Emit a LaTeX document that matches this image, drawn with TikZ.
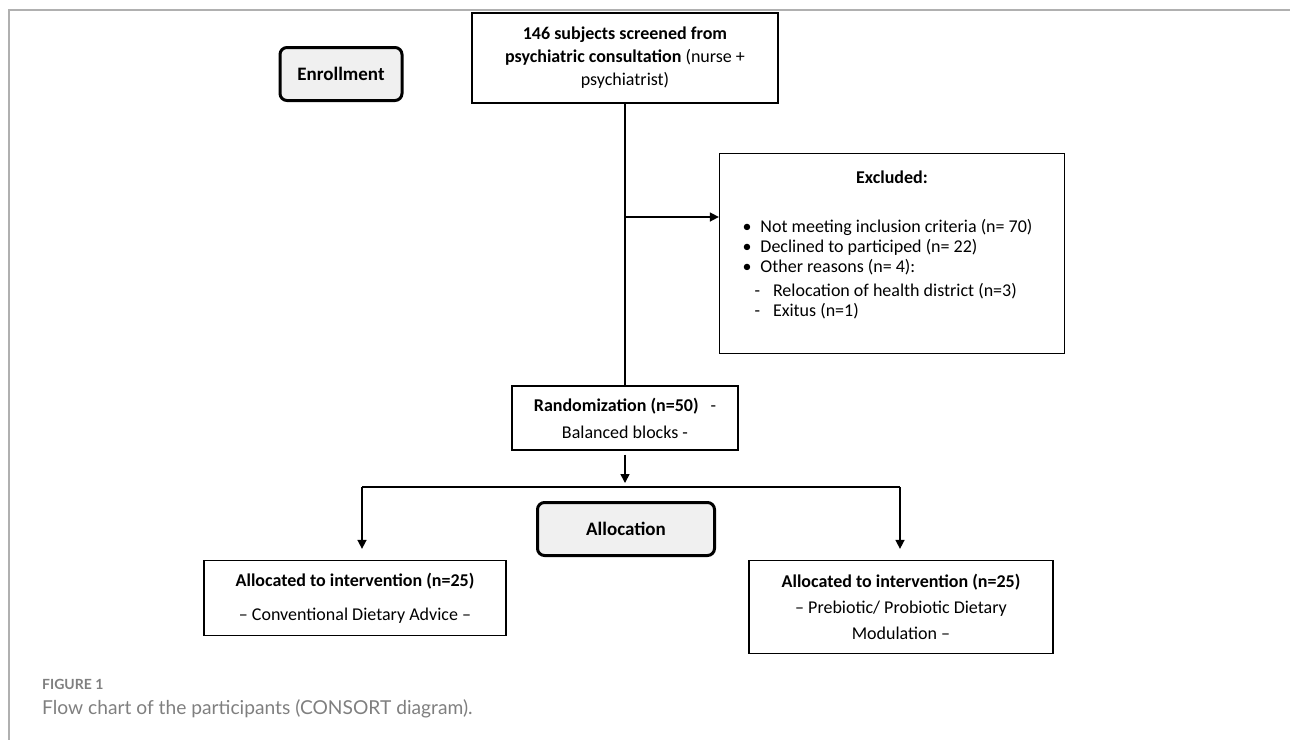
\documentclass[tikz,border=0pt]{standalone}
\usepackage{fontspec}
\setmainfont{Carlito}
\newfontfamily\captionfont{Lato}
\usetikzlibrary{arrows.meta,positioning}
\definecolor{framegray}{HTML}{B0B0B0}
\definecolor{capgray}{HTML}{7F7F7F}
\definecolor{phasefill}{HTML}{F0F0F0}

\begin{document}
\begin{tikzpicture}[
    x=1pt, y=-1pt,
    box/.style={draw, line width=1.3pt, align=center, inner sep=0pt, font=\fontsize{18}{27}\selectfont},
    phase/.style={draw, line width=3pt, rounded corners=7pt, fill=phasefill, inner sep=0pt, font=\bfseries\fontsize{19}{23}\selectfont},
    link/.style={line width=1.6pt},
    arr/.style={-{Triangle[length=9pt, width=9pt]}, line width=1.6pt}
]
\useasboundingbox (0,0) rectangle (1290,740);
\draw[framegray, line width=1.5pt] (1290,10) -- (9,10) -- (9,740);

\node[phase, minimum width=122pt, minimum height=53pt] (enroll) at (341,74) {Enrollment};
\node[box, minimum width=306pt, minimum height=90pt, font=\fontsize{18}{23}\selectfont] (screen) at (625,58) {\textbf{146 subjects screened from}\\\textbf{psychiatric consultation} (nurse +\\psychiatrist)};
\node[box, anchor=north, inner xsep=23pt, inner ysep=17pt, text width=299pt, align=left, font=\fontsize{18}{20}\selectfont] (excl) at (892,153) {%
  \parindent=0pt\parskip=0pt\spaceskip=0pt\xspaceskip=0pt
  {\centering\textbf{Excluded:}\par}\vspace{29pt}
  \raggedright
  \textbullet\hspace{9pt}Not meeting inclusion criteria (n= 70)\par
  \textbullet\hspace{9pt}Declined to participed (n= 22)\par
  \textbullet\hspace{9pt}Other reasons (n= 4):\par\vspace{4pt}
  \hspace*{12pt}-\hspace{13pt}Relocation of health district (n=3)\par
  \hspace*{12pt}-\hspace{13pt}Exitus (n=1)\par\mbox{}};
\node[box, minimum width=226pt, minimum height=64pt] (rand) at (625,418) {\textbf{Randomization (n=50)}\hspace{12pt}-\\Balanced blocks -};
\node[phase, minimum width=177pt, minimum height=53pt] (alloc) at (626,529) {Allocation};
\node[box, minimum width=302pt, minimum height=75pt] (conv) at (355,598) {\textbf{Allocated to intervention (n=25)}\\[7pt]-- Conventional Dietary Advice --};
\node[box, minimum width=304pt, minimum height=93pt, font=\fontsize{18}{26}\selectfont] (probio) at (901,607) {\textbf{Allocated to intervention (n=25)}\\-- Prebiotic/ Probiotic Dietary\\Modulation --};

\coordinate (excljoin) at (625,217);
\coordinate (split) at (625,487);
\coordinate (lturn) at (362,487);
\coordinate (rturn) at (900,487);

\draw[link] (screen.south) -- (rand.north);
\draw[arr] (excljoin) -- (excljoin -| excl.west);
\draw[arr, shorten <=4pt, shorten >=4pt] (rand.south) -- (split);
\draw[link] (lturn) -- (rturn);
\draw[arr, shorten >=11pt] (lturn) -- (lturn |- conv.north);
\draw[arr, shorten >=11pt] (rturn) -- (rturn |- probio.north);

\node[anchor=base west, inner sep=0pt, text=capgray, font=\captionfont\bfseries\fontsize{14}{16}\selectfont] (figlabel) at (42,689) {FIGURE 1};
\node[anchor=base west, inner sep=0pt, text=capgray, font=\captionfont\fontsize{19.2}{23}\selectfont] (figcaption) at (42,714) {Flow chart of the participants (CONSORT diagram).};
\end{tikzpicture}
\end{document}
